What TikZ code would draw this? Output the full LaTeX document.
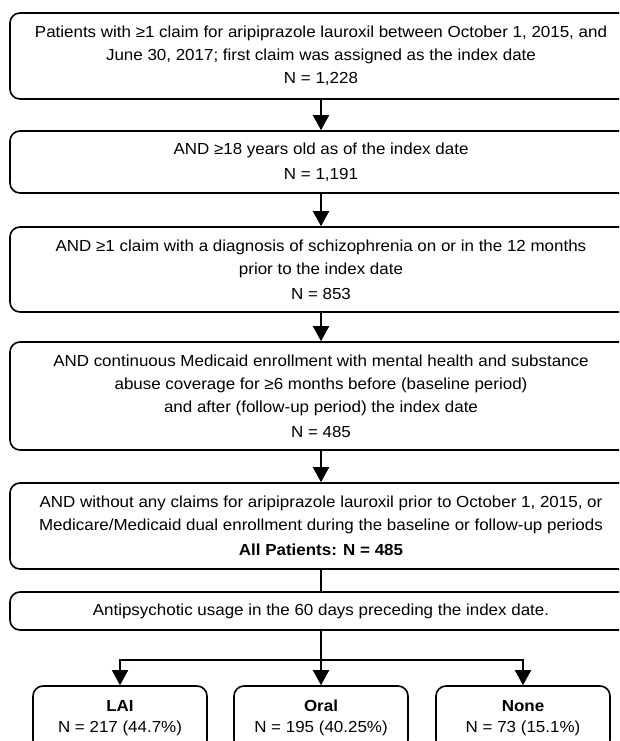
\documentclass[tikz,border=0pt]{standalone}
\usepackage{fontspec}
\setmainfont[FakeStretch=1.06]{Liberation Sans}
\usetikzlibrary{arrows.meta, positioning}
\tikzset{
  critbox/.style={draw, rounded corners=10pt, line width=1.6pt, inner sep=0pt,
    minimum width=622pt, align=center, font=\fontsize{16}{23}\selectfont},
  groupbox/.style={critbox, minimum width=174pt, minimum height=64pt},
  flow/.style={line width=1.6pt, -{Triangle[length=15pt, width=16pt]}},
  link/.style={line width=1.6pt}
}

\begin{document}
\begin{tikzpicture}[x=1pt, y=-1pt]
  \clip (0,0) rectangle (619,741);
  \node[critbox, minimum height=86pt] (start) at (321,56)
    {Patients with ≥1 claim for aripiprazole lauroxil between October 1, 2015, and\\
     June 30, 2017; first claim was assigned as the index date\\ N = 1,228};
  \node[critbox, minimum height=62pt] (age) at (321,162)
    {AND ≥18 years old as of the index date\\[2pt] N = 1,191};
  \node[critbox, minimum height=85pt] (diag) at (321,269.5)
    {AND ≥1 claim with a diagnosis of schizophrenia on or in the 12 months\\
     prior to the index date\\[2pt] N = 853};
  \node[critbox, minimum height=108pt] (enroll) at (321,396)
    {AND continuous Medicaid enrollment with mental health and substance\\
     abuse coverage for ≥6 months before (baseline period)\\
     and after (follow-up period) the index date\\[2pt] N = 485};
  \node[critbox, minimum height=86pt] (final) at (321,526)
    {AND without any claims for aripiprazole lauroxil prior to October 1, 2015, or\\
     Medicare/Medicaid dual enrollment during the baseline or follow-up periods\\[2pt]
     \textbf{All Patients: N = 485}};
  \node[critbox, minimum height=38pt] (usage) at (321,611)
    {Antipsychotic usage in the 60 days preceding the index date.};
  %
  \node[groupbox] (lai) at (120,718) {\textbf{LAI}\\[-2pt] N = 217 (44.7\%)};
  \node[groupbox] (oral) at (321,718) {\textbf{Oral}\\[-2pt] N = 195 (40.25\%)};
  \node[groupbox] (none) at (523,718) {\textbf{None}\\[-2pt] N = 73 (15.1\%)};
  \coordinate (fork) at (321,660);
  %
  \draw[flow] (start) -- (age);
  \draw[flow] (age) -- (diag);
  \draw[flow] (diag) -- (enroll);
  \draw[flow] (enroll) -- (final);
  \draw[link] (final) -- (usage);
  \draw[link] (usage) -- (fork);
  \draw[flow] (fork) -| (lai);
  \draw[flow] (fork) -- (oral);
  \draw[flow] (fork) -| (none);
\end{tikzpicture}
\end{document}
